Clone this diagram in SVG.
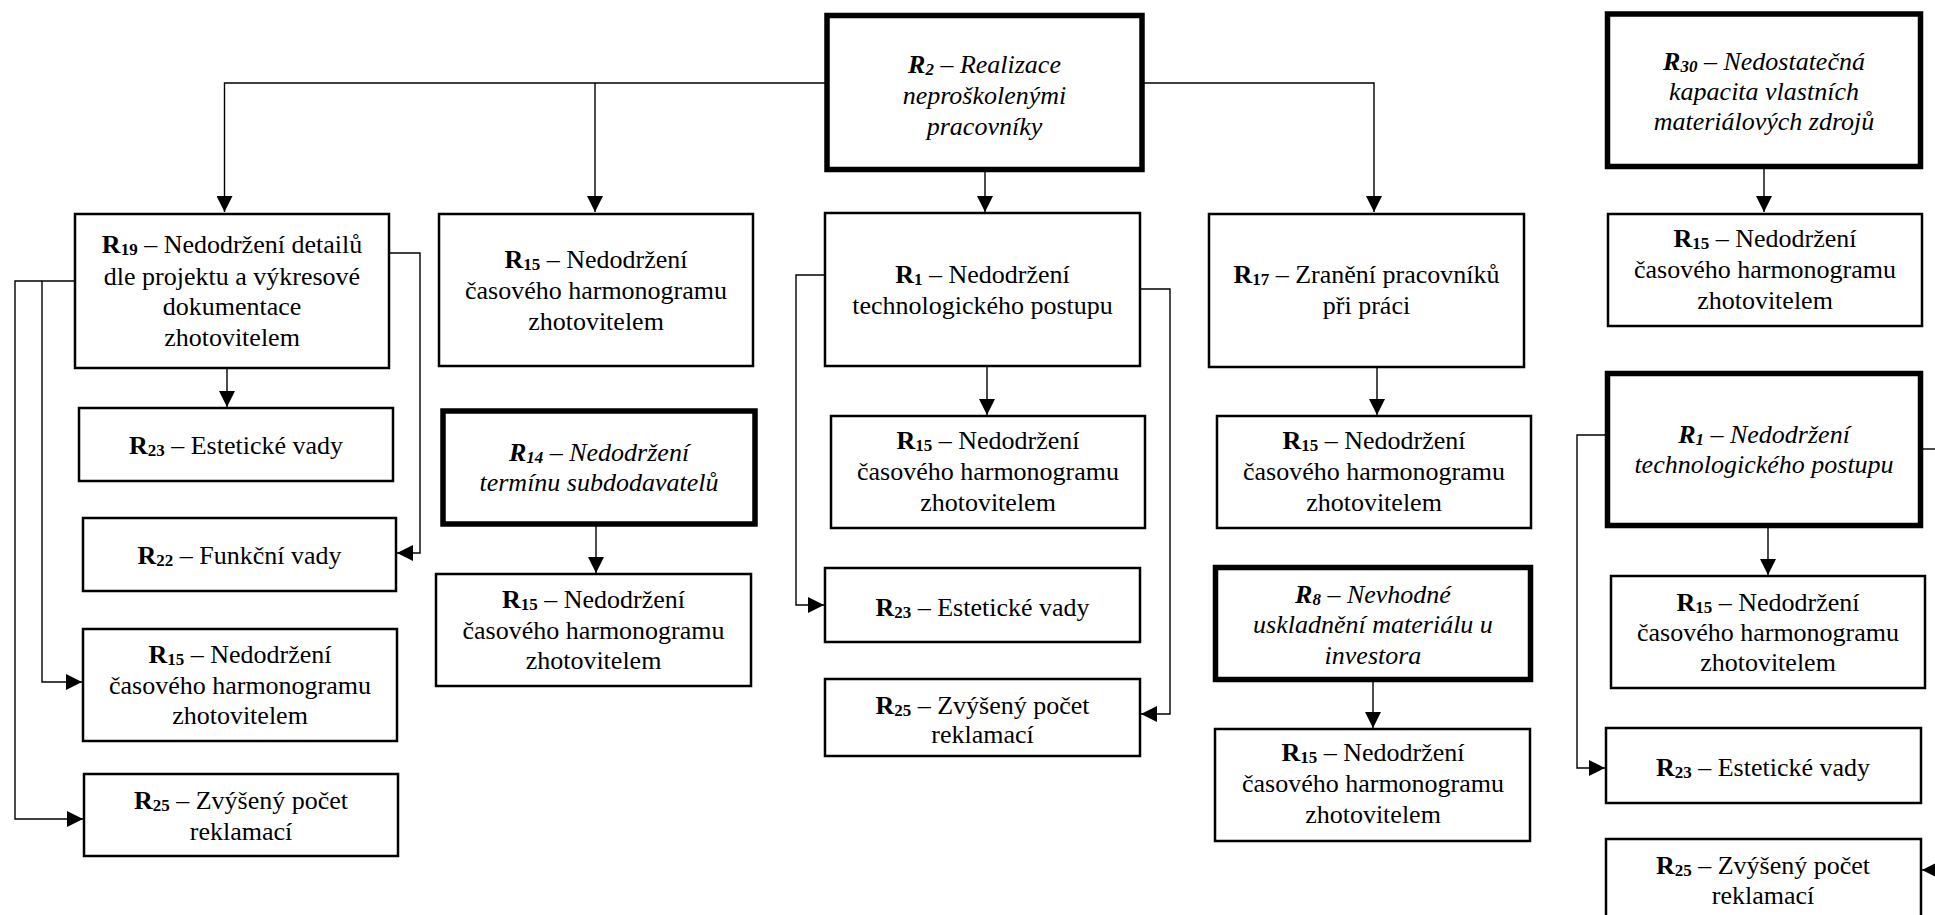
<svg xmlns="http://www.w3.org/2000/svg" width="1935" height="915" viewBox="0 0 1935 915">
<style>
.bg{fill:#fff}
.box{fill:#fff;stroke:#000;stroke-width:2.5}
.tbox{fill:#fff;stroke:#000;stroke-width:5.5}
.con{fill:none;stroke:#000;stroke-width:1.4}
.t text{font-family:'Liberation Serif','Times New Roman',serif;font-size:26px;fill:#000;text-anchor:middle}
.it{font-style:italic}
.b{font-weight:bold}
.s{font-size:17px;font-weight:bold}
</style>
<defs>
<marker id="ar" markerUnits="userSpaceOnUse" markerWidth="16" markerHeight="16" viewBox="0 0 16 16" refX="16" refY="8" orient="auto">
<path d="M0,0 L16,8 L0,16 Z" fill="#000"/>
</marker>
</defs>
<rect class="bg" x="0" y="0" width="1935" height="915"/>
<g id="connectors">
<path class="con" d="M827,83 H224.5 V212" marker-end="url(#ar)"/>
<path class="con" d="M595,83 V212" marker-end="url(#ar)"/>
<path class="con" d="M1142,83 H1374 V212" marker-end="url(#ar)"/>
<path class="con" d="M985,170 V212" marker-end="url(#ar)"/>
<path class="con" d="M227,368 V407" marker-end="url(#ar)"/>
<path class="con" d="M390,253 H420 V553 H397" marker-end="url(#ar)"/>
<path class="con" d="M74,281 H42 V682 H82" marker-end="url(#ar)"/>
<path class="con" d="M42,281 H15 V819 H83" marker-end="url(#ar)"/>
<path class="con" d="M596,524 V573" marker-end="url(#ar)"/>
<path class="con" d="M987,367 V415" marker-end="url(#ar)"/>
<path class="con" d="M824,275 H796 V605 H824" marker-end="url(#ar)"/>
<path class="con" d="M1141,289 H1170 V714 H1141" marker-end="url(#ar)"/>
<path class="con" d="M1377,368 V415" marker-end="url(#ar)"/>
<path class="con" d="M1373,680 V728" marker-end="url(#ar)"/>
<path class="con" d="M1764,166 V212" marker-end="url(#ar)"/>
<path class="con" d="M1768,526 V575" marker-end="url(#ar)"/>
<path class="con" d="M1605,435 H1577 V768 H1605" marker-end="url(#ar)"/>
<path class="con" d="M1923,449 H1940"/>
<path class="con" d="M1945,870 H1922" marker-end="url(#ar)"/>
</g>
<g class="t">
<g id="n-r2">
<rect class="tbox" x="827" y="15.5" width="315" height="154"/>
<text class="it" x="984.5" y="73"><tspan class="b">R</tspan><tspan class="s" dy="2">2</tspan><tspan dy="-2"> – Realizace</tspan></text>
<text class="it" x="984.5" y="104">neproškolenými</text>
<text class="it" x="984.5" y="135">pracovníky</text>
</g>
<g id="n-r30">
<rect class="tbox" x="1607.5" y="14" width="313" height="152.5"/>
<text class="it" x="1764" y="70"><tspan class="b">R</tspan><tspan class="s" dy="2">30</tspan><tspan dy="-2"> – Nedostatečná</tspan></text>
<text class="it" x="1764" y="100">kapacita vlastních</text>
<text class="it" x="1764" y="130">materiálových zdrojů</text>
</g>
<g id="n-r19">
<rect class="box" x="75" y="214" width="314" height="154"/>
<text x="232" y="253"><tspan class="b">R</tspan><tspan class="s" dy="2">19</tspan><tspan dy="-2"> – Nedodržení detailů</tspan></text>
<text x="232" y="285">dle projektu a výkresové</text>
<text x="232" y="315">dokumentace</text>
<text x="232" y="346">zhotovitelem</text>
</g>
<g id="n-r23a">
<rect class="box" x="79" y="408" width="314" height="73"/>
<text x="236" y="454"><tspan class="b">R</tspan><tspan class="s" dy="2">23</tspan><tspan dy="-2"> – Estetické vady</tspan></text>
</g>
<g id="n-r22">
<rect class="box" x="83" y="518" width="313" height="73"/>
<text x="239.5" y="564"><tspan class="b">R</tspan><tspan class="s" dy="2">22</tspan><tspan dy="-2"> – Funkční vady</tspan></text>
</g>
<g id="n-r15a">
<rect class="box" x="83" y="629" width="314" height="112"/>
<text x="240" y="663"><tspan class="b">R</tspan><tspan class="s" dy="2">15</tspan><tspan dy="-2"> – Nedodržení</tspan></text>
<text x="240" y="694">časového harmonogramu</text>
<text x="240" y="724">zhotovitelem</text>
</g>
<g id="n-r25a">
<rect class="box" x="84" y="774" width="314" height="82"/>
<text x="241" y="809"><tspan class="b">R</tspan><tspan class="s" dy="2">25</tspan><tspan dy="-2"> – Zvýšený počet</tspan></text>
<text x="241" y="840">reklamací</text>
</g>
<g id="n-r15b">
<rect class="box" x="439" y="214" width="314" height="152"/>
<text x="596" y="268"><tspan class="b">R</tspan><tspan class="s" dy="2">15</tspan><tspan dy="-2"> – Nedodržení</tspan></text>
<text x="596" y="299">časového harmonogramu</text>
<text x="596" y="330">zhotovitelem</text>
</g>
<g id="n-r14">
<rect class="tbox" x="443" y="411" width="312" height="113"/>
<text class="it" x="599" y="461"><tspan class="b">R</tspan><tspan class="s" dy="2">14</tspan><tspan dy="-2"> – Nedodržení</tspan></text>
<text class="it" x="599" y="491">termínu subdodavatelů</text>
</g>
<g id="n-r15c">
<rect class="box" x="436" y="574" width="315" height="112"/>
<text x="593.5" y="608"><tspan class="b">R</tspan><tspan class="s" dy="2">15</tspan><tspan dy="-2"> – Nedodržení</tspan></text>
<text x="593.5" y="639">časového harmonogramu</text>
<text x="593.5" y="669">zhotovitelem</text>
</g>
<g id="n-r1a">
<rect class="box" x="825" y="213" width="315" height="153"/>
<text x="982.5" y="283"><tspan class="b">R</tspan><tspan class="s" dy="2">1</tspan><tspan dy="-2"> – Nedodržení</tspan></text>
<text x="982.5" y="314">technologického postupu</text>
</g>
<g id="n-r15d">
<rect class="box" x="831" y="416" width="314" height="112"/>
<text x="988" y="449"><tspan class="b">R</tspan><tspan class="s" dy="2">15</tspan><tspan dy="-2"> – Nedodržení</tspan></text>
<text x="988" y="480">časového harmonogramu</text>
<text x="988" y="511">zhotovitelem</text>
</g>
<g id="n-r23b">
<rect class="box" x="825" y="568" width="315" height="74"/>
<text x="982.5" y="616"><tspan class="b">R</tspan><tspan class="s" dy="2">23</tspan><tspan dy="-2"> – Estetické vady</tspan></text>
</g>
<g id="n-r25b">
<rect class="box" x="825" y="679" width="315" height="77"/>
<text x="982.5" y="714"><tspan class="b">R</tspan><tspan class="s" dy="2">25</tspan><tspan dy="-2"> – Zvýšený počet</tspan></text>
<text x="982.5" y="743">reklamací</text>
</g>
<g id="n-r17">
<rect class="box" x="1209" y="214" width="315" height="153"/>
<text x="1366.5" y="283"><tspan class="b">R</tspan><tspan class="s" dy="2">17</tspan><tspan dy="-2"> – Zranění pracovníků</tspan></text>
<text x="1366.5" y="314">při práci</text>
</g>
<g id="n-r15e">
<rect class="box" x="1217" y="416" width="314" height="112"/>
<text x="1374" y="449"><tspan class="b">R</tspan><tspan class="s" dy="2">15</tspan><tspan dy="-2"> – Nedodržení</tspan></text>
<text x="1374" y="480">časového harmonogramu</text>
<text x="1374" y="511">zhotovitelem</text>
</g>
<g id="n-r8">
<rect class="tbox" x="1215.5" y="567.5" width="315" height="112"/>
<text class="it" x="1373" y="603"><tspan class="b">R</tspan><tspan class="s" dy="2">8</tspan><tspan dy="-2"> – Nevhodné</tspan></text>
<text class="it" x="1373" y="633">uskladnění materiálu u</text>
<text class="it" x="1373" y="664">investora</text>
</g>
<g id="n-r15f">
<rect class="box" x="1215" y="729" width="315" height="112"/>
<text x="1373" y="761"><tspan class="b">R</tspan><tspan class="s" dy="2">15</tspan><tspan dy="-2"> – Nedodržení</tspan></text>
<text x="1373" y="792">časového harmonogramu</text>
<text x="1373" y="823">zhotovitelem</text>
</g>
<g id="n-r15g">
<rect class="box" x="1608" y="214" width="314" height="112"/>
<text x="1765" y="247"><tspan class="b">R</tspan><tspan class="s" dy="2">15</tspan><tspan dy="-2"> – Nedodržení</tspan></text>
<text x="1765" y="278">časového harmonogramu</text>
<text x="1765" y="309">zhotovitelem</text>
</g>
<g id="n-r1b">
<rect class="tbox" x="1607.5" y="373.5" width="313" height="152"/>
<text class="it" x="1764" y="443"><tspan class="b">R</tspan><tspan class="s" dy="2">1</tspan><tspan dy="-2"> – Nedodržení</tspan></text>
<text class="it" x="1764" y="473">technologického postupu</text>
</g>
<g id="n-r15h">
<rect class="box" x="1611" y="576" width="314" height="112"/>
<text x="1768" y="611"><tspan class="b">R</tspan><tspan class="s" dy="2">15</tspan><tspan dy="-2"> – Nedodržení</tspan></text>
<text x="1768" y="641">časového harmonogramu</text>
<text x="1768" y="671">zhotovitelem</text>
</g>
<g id="n-r23c">
<rect class="box" x="1606" y="728" width="315" height="75"/>
<text x="1763" y="776"><tspan class="b">R</tspan><tspan class="s" dy="2">23</tspan><tspan dy="-2"> – Estetické vady</tspan></text>
</g>
<g id="n-r25c">
<rect class="box" x="1606" y="839" width="315" height="80"/>
<text x="1763" y="874"><tspan class="b">R</tspan><tspan class="s" dy="2">25</tspan><tspan dy="-2"> – Zvýšený počet</tspan></text>
<text x="1763" y="904">reklamací</text>
</g>
</g>
</svg>
